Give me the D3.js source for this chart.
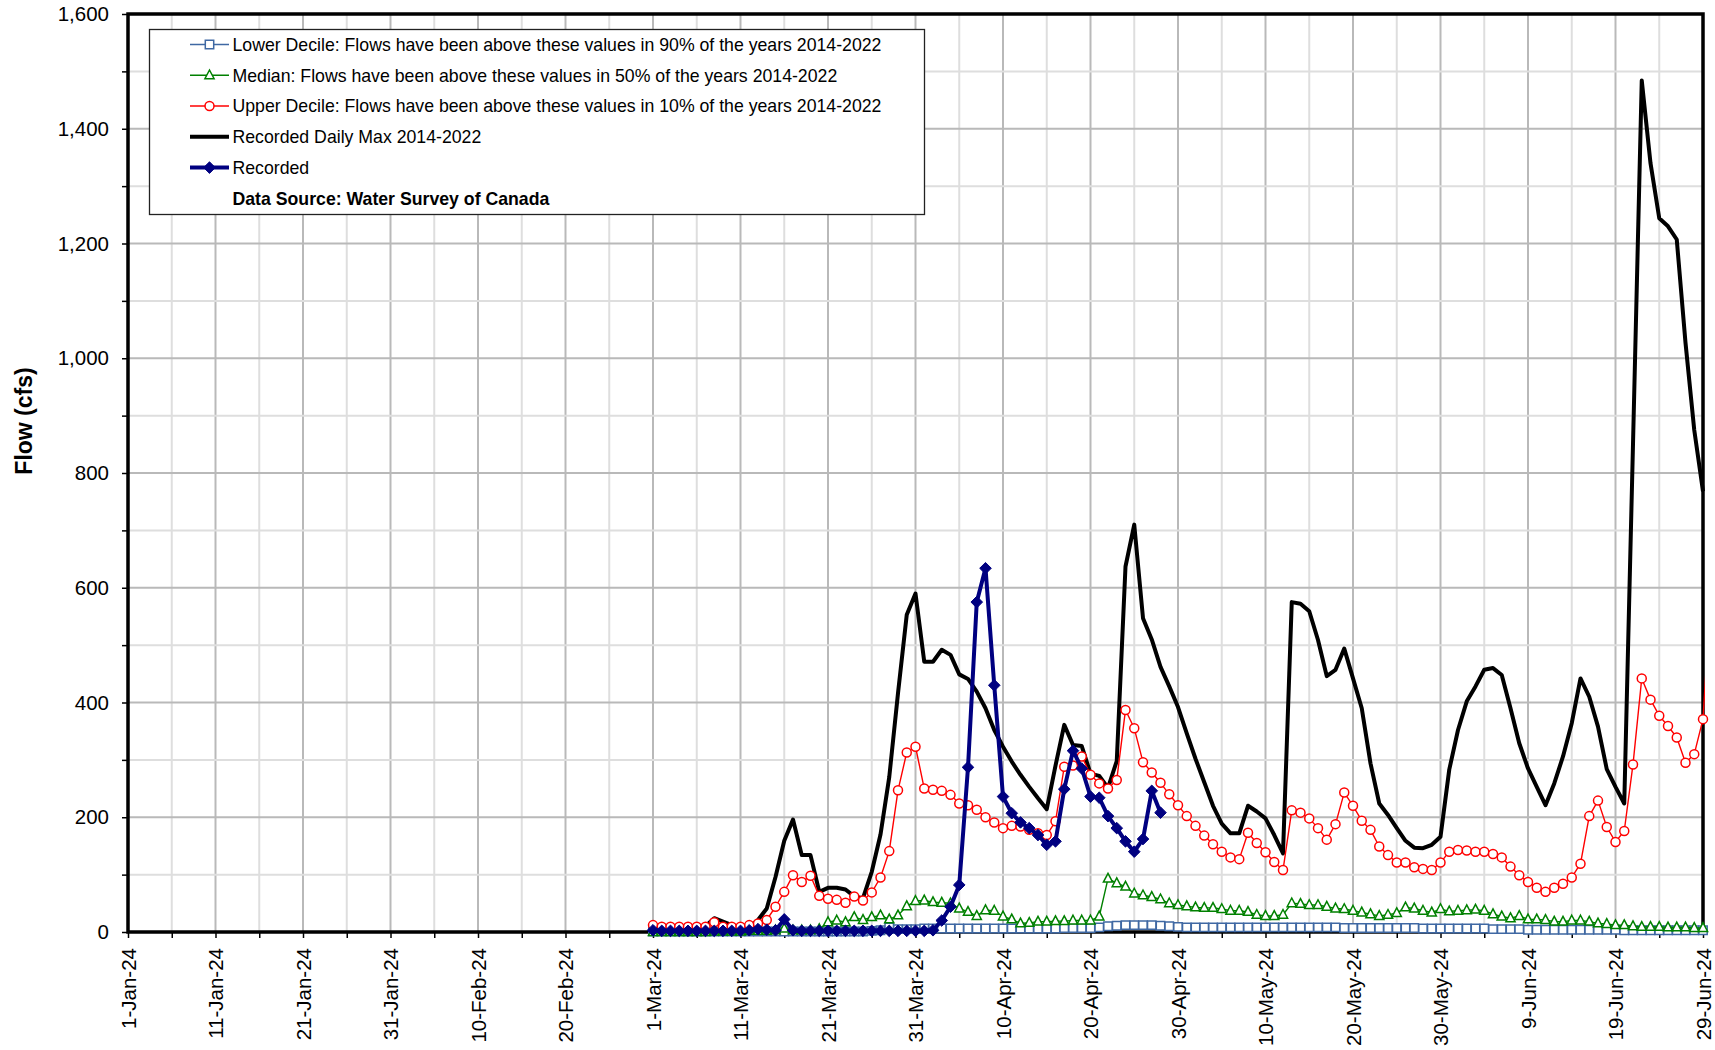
<!DOCTYPE html>
<html>
<head>
<meta charset="utf-8">
<script src="https://cdn.jsdelivr.net/npm/d3@7"></script>
<style>
  html, body { margin: 0; padding: 0; background: #ffffff; }
  svg { display: block; font-family: "Liberation Sans", Arial, Helvetica, sans-serif; }
</style>
</head>
<body>
<svg id="chart" width="1715" height="1050"></svg>
<script>
// ---- Data: daily flows (cfs), one value per day starting at seriesStart ----
const seriesStart = "2024-03-01";

// Lower decile (90% exceedance), 1-Mar .. 29-Jun
const lowerDecile = [
  1,1,1,1,1,1,1,1,1,1, 1,1,1,1,1,1,1,1,1,1, 1,1,1,1,1,
  2,3,8,5,5,5,
  6,6,6,6,6,6,6,6,6,6, 6,6,6,6,6,6,7,7,7,7,
  8,10,11,12,12,12,12,11,10,9,
  8,8,8,8,8,8,8,8,8,8,
  8,8,8,8,8,8,8,8,7,7,
  7,7,7,7,7,7,7,6,6,6,
  6,6,6,6,6,5,5,5,5,4,
  4,4,4,4,4,4,4,4,4,4,
  3,3,3,3,3,3,3,3,3,3
];

// Median (50% exceedance), 1-Mar .. 29-Jun
const median = [
  0,0,0,0,0,0,0,1,1,1, 1,2,2,2,3,6,3,3,3,5,
  17,20,17,26,21,26,29,22,29,45,
  54,55,52,51,50,41,35,28,38,37,
  27,22,15,16,18,18,19,19,20,20,
  20,27,93,85,79,67,64,61,57,50,
  47,45,43,42,42,40,37,37,35,30,
  28,28,30,50,49,47,47,44,41,40,
  37,34,31,28,30,33,43,41,37,34,
  40,36,37,38,39,37,31,27,24,28,
  22,22,21,18,18,20,20,18,15,14,
  12,12,10,9,9,9,8,8,8,7,7
];

// Upper decile (10% exceedance), 1-Mar .. 30-Jun
const upperDecile = [
  12,9,9,9,9,9,9,17,9,9,
  9,12,15,21,44,70,99,87,98,63,
  58,56,51,62,55,69,95,141,247,313,
  323,250,248,246,239,224,221,213,200,191,
  181,185,184,178,172,169,193,288,290,306,
  274,259,250,265,387,355,296,278,260,240,
  221,202,185,168,153,140,130,127,173,155,
  139,122,108,212,208,198,181,161,188,243,
  220,194,178,149,134,121,121,113,110,108,
  121,140,143,142,140,140,136,130,114,99,
  87,77,70,77,84,95,119,202,229,183,
  157,176,292,442,405,377,359,339,295,310,371,620
];

// Recorded daily maximum 2014-2022, 1-Mar .. 29-Jun
const dailyMax = [
  10,9,9,9,9,9,10,24,18,12,
  8,9,21,41,96,159,196,134,134,70,
  77,77,74,62,59,105,170,270,416,553,
  590,471,471,492,483,449,441,419,390,352,
  323,297,274,253,233,214,290,361,326,324,
  276,272,251,298,637,710,547,510,462,428,
  392,346,302,261,220,189,172,172,220,210,
  198,169,137,575,572,559,509,446,457,494,
  442,390,294,224,204,181,159,147,146,152,
  166,283,352,402,428,457,460,448,390,329,
  285,253,221,259,306,364,442,410,358,284,
  253,224,850,1484,1340,1244,1230,1207,1027,875,768
];

// Recorded 2024, 1-Mar .. 28-Apr
const recorded = [
  3,2,2,2,2,2,2,2,2,2,
  2,3,5,4,3,22,3,2,2,2,
  2,2,2,2,2,2,2,2,2,2,
  2,2,3,20,44,82,287,575,634,430,
  236,207,191,181,169,152,158,249,316,285,
  236,234,202,181,158,140,162,246,208
];

const tickLabels = [
  "1-Jan-24","11-Jan-24","21-Jan-24","31-Jan-24","10-Feb-24","20-Feb-24",
  "1-Mar-24","11-Mar-24","21-Mar-24","31-Mar-24","10-Apr-24","20-Apr-24",
  "30-Apr-24","10-May-24","20-May-24","30-May-24","9-Jun-24","19-Jun-24","29-Jun-24"
];
const yTickValues = [0, 200, 400, 600, 800, 1000, 1200, 1400, 1600];

const legendLabels = [
  "Lower Decile: Flows have been above these values in 90% of the years 2014-2022",
  "Median: Flows have been above these values in 50% of the years 2014-2022",
  "Upper Decile: Flows have been above these values in 10% of the years 2014-2022",
  "Recorded Daily Max 2014-2022",
  "Recorded"
];
const sourceNote = "Data Source: Water Survey of Canada";
const yTitle = "Flow (cfs)";

// ---- Layout ----
const plot = { left: 128, top: 14, right: 1703, bottom: 932 };
const svg = d3.select("#chart");
svg.append("rect").attr("width", 1715).attr("height", 1050).attr("fill", "#ffffff");

const parseTick = d3.utcParse("%d-%b-%y");
const tickDates = tickLabels.map(parseTick);
const labelByTime = new Map(tickDates.map((d, i) => [+d, tickLabels[i]]));

const x = d3.scaleUtc()
  .domain([tickDates[0], tickDates[tickDates.length - 1]])
  .range([plot.left, plot.right]);
const y = d3.scaleLinear()
  .domain([yTickValues[0], yTickValues[yTickValues.length - 1]])
  .range([plot.bottom, plot.top]);

// half-interval positions (every 5 days / every 100 cfs) for minor grid & ticks
const halfDates = [];
tickDates.forEach((d, i) => {
  halfDates.push(d);
  if (i < tickDates.length - 1) halfDates.push(d3.utcDay.offset(d, 5));
});
const halfValues = [];
yTickValues.forEach((v, i) => {
  halfValues.push(v);
  if (i < yTickValues.length - 1) halfValues.push((v + yTickValues[i + 1]) / 2);
});

// ---- Gridlines ----
const grid = svg.append("g");
grid.selectAll("line.vx").data(halfDates).join("line")
  .attr("x1", d => x(d)).attr("x2", d => x(d))
  .attr("y1", plot.top).attr("y2", plot.bottom)
  .attr("stroke", d => labelByTime.has(+d) ? "#b9b9b9" : "#dedede")
  .attr("stroke-width", 2);
grid.selectAll("line.hy").data(halfValues).join("line")
  .attr("x1", plot.left).attr("x2", plot.right)
  .attr("y1", d => y(d)).attr("y2", d => y(d))
  .attr("stroke", d => yTickValues.includes(d) ? "#b9b9b9" : "#dedede")
  .attr("stroke-width", 2);

// ---- Axes ----
const xAxis = d3.axisBottom(x)
  .tickValues(halfDates)
  .tickSize(6)
  .tickFormat(d => labelByTime.get(+d) || "");
const gx = svg.append("g").attr("transform", `translate(0,${plot.bottom})`).call(xAxis);
gx.select(".domain").remove();
gx.selectAll(".tick line").attr("stroke", "#000").attr("stroke-width", 1.5);
gx.selectAll(".tick text")
  .attr("transform", "rotate(-90)")
  .attr("x", -16).attr("y", 0).attr("dy", "0.36em")
  .style("text-anchor", "end")
  .style("font-size", "20.5px")
  .style("font-family", '"Liberation Sans", Arial, sans-serif')
  .attr("fill", "#000");

const yAxis = d3.axisLeft(y)
  .tickValues(halfValues)
  .tickSize(6)
  .tickPadding(13)
  .tickFormat(v => yTickValues.includes(v) ? d3.format(",")(v) : "");
const gy = svg.append("g").attr("transform", `translate(${plot.left},0)`).call(yAxis);
gy.select(".domain").remove();
gy.selectAll(".tick line").attr("stroke", "#000").attr("stroke-width", 1.5);
gy.selectAll(".tick text")
  .style("font-size", "20.5px")
  .style("font-family", '"Liberation Sans", Arial, sans-serif')
  .attr("fill", "#000");

// plot frame
svg.append("rect")
  .attr("x", plot.left).attr("y", plot.top)
  .attr("width", plot.right - plot.left).attr("height", plot.bottom - plot.top)
  .attr("fill", "none").attr("stroke", "#000").attr("stroke-width", 3.5);

// y-axis title
svg.append("text")
  .attr("transform", `translate(24,421) rotate(-90)`)
  .attr("text-anchor", "middle").attr("dy", "0.36em")
  .style("font-size", "23px").style("font-weight", "bold")
  .text(yTitle);

// ---- Series ----
svg.append("clipPath").attr("id", "plotClip")
  .append("rect")
  .attr("x", plot.left).attr("y", plot.top - 6)
  .attr("width", plot.right - plot.left + 2).attr("height", plot.bottom - plot.top + 14);

const start = d3.utcParse("%Y-%m-%d")(seriesStart);
const toPoints = arr => arr.map((v, i) => ({ date: d3.utcDay.offset(start, i), value: v }));
const inDomain = p => p.date <= x.domain()[1];
const line = d3.line().x(d => x(d.date)).y(d => y(d.value));

const markers = {
  square: s => `M${-s},${-s}H${s}V${s}H${-s}Z`,
  triangle: s => `M0,${-s * 1.15}L${s},${s * 0.75}L${-s},${s * 0.75}Z`,
  diamond: s => `M0,${-s}L${s},0L0,${s}L${-s},0Z`
};

const styles = [
  { data: lowerDecile, color: "#3f68a3", width: 1.4, marker: "square", size: 4.2, fill: "#ffffff", mw: 1.5 },
  { data: median, color: "#008000", width: 1.4, marker: "triangle", size: 4.6, fill: "#ffffff", mw: 1.5 },
  { data: upperDecile, color: "#ff0000", width: 1.4, marker: "circle", size: 4.5, fill: "#ffffff", mw: 1.5 },
  { data: dailyMax, color: "#000000", width: 4, marker: null },
  { data: recorded, color: "#000080", width: 4, marker: "diamond", size: 5.8, fill: "#000080", mw: 1 }
];

function drawMarker(sel, st) {
  if (st.marker === "circle") {
    return sel.append("circle").attr("r", st.size)
      .attr("fill", st.fill).attr("stroke", st.color).attr("stroke-width", st.mw);
  }
  return sel.append("path").attr("d", markers[st.marker](st.size))
    .attr("fill", st.fill).attr("stroke", st.color).attr("stroke-width", st.mw)
    .attr("stroke-linejoin", "miter");
}

// draw order: daily max underneath, then deciles/median, recorded on top
const drawOrder = [3, 0, 1, 2, 4];
drawOrder.forEach(k => {
  const st = styles[k];
  const pts = toPoints(st.data);
  const g = svg.append("g");
  g.append("path")
    .attr("clip-path", "url(#plotClip)")
    .attr("d", line(pts))
    .attr("fill", "none")
    .attr("stroke", st.color)
    .attr("stroke-width", st.width)
    .attr("stroke-linejoin", "round");
  if (st.marker) {
    g.selectAll("g.m").data(pts.filter(inDomain)).join("g")
      .attr("transform", d => `translate(${x(d.date)},${y(d.value)})`)
      .each(function () { drawMarker(d3.select(this), st); });
  }
});

// ---- Legend ----
const legend = svg.append("g");
legend.append("rect")
  .attr("x", 149.5).attr("y", 29.5).attr("width", 775).attr("height", 185)
  .attr("fill", "#ffffff").attr("stroke", "#222").attr("stroke-width", 1.3);
const rowY = [44.5, 75.3, 106, 136.8, 167.6];
legendLabels.forEach((lab, i) => {
  const st = styles[i];
  const row = legend.append("g").attr("transform", `translate(0,${rowY[i]})`);
  row.append("line").attr("x1", 190).attr("x2", 229).attr("y1", 0).attr("y2", 0)
    .attr("stroke", st.color).attr("stroke-width", st.width);
  if (st.marker) {
    const m = row.append("g").attr("transform", "translate(209.5,0)");
    drawMarker(m, st);
  }
  row.append("text").attr("x", 232.5).attr("dy", "0.36em")
    .style("font-size", "17.7px").text(lab);
});
legend.append("text").attr("x", 232.5).attr("y", 198.5).attr("dy", "0.36em")
  .style("font-size", "17.7px").style("font-weight", "bold").text(sourceNote);
</script>
</body>
</html>
